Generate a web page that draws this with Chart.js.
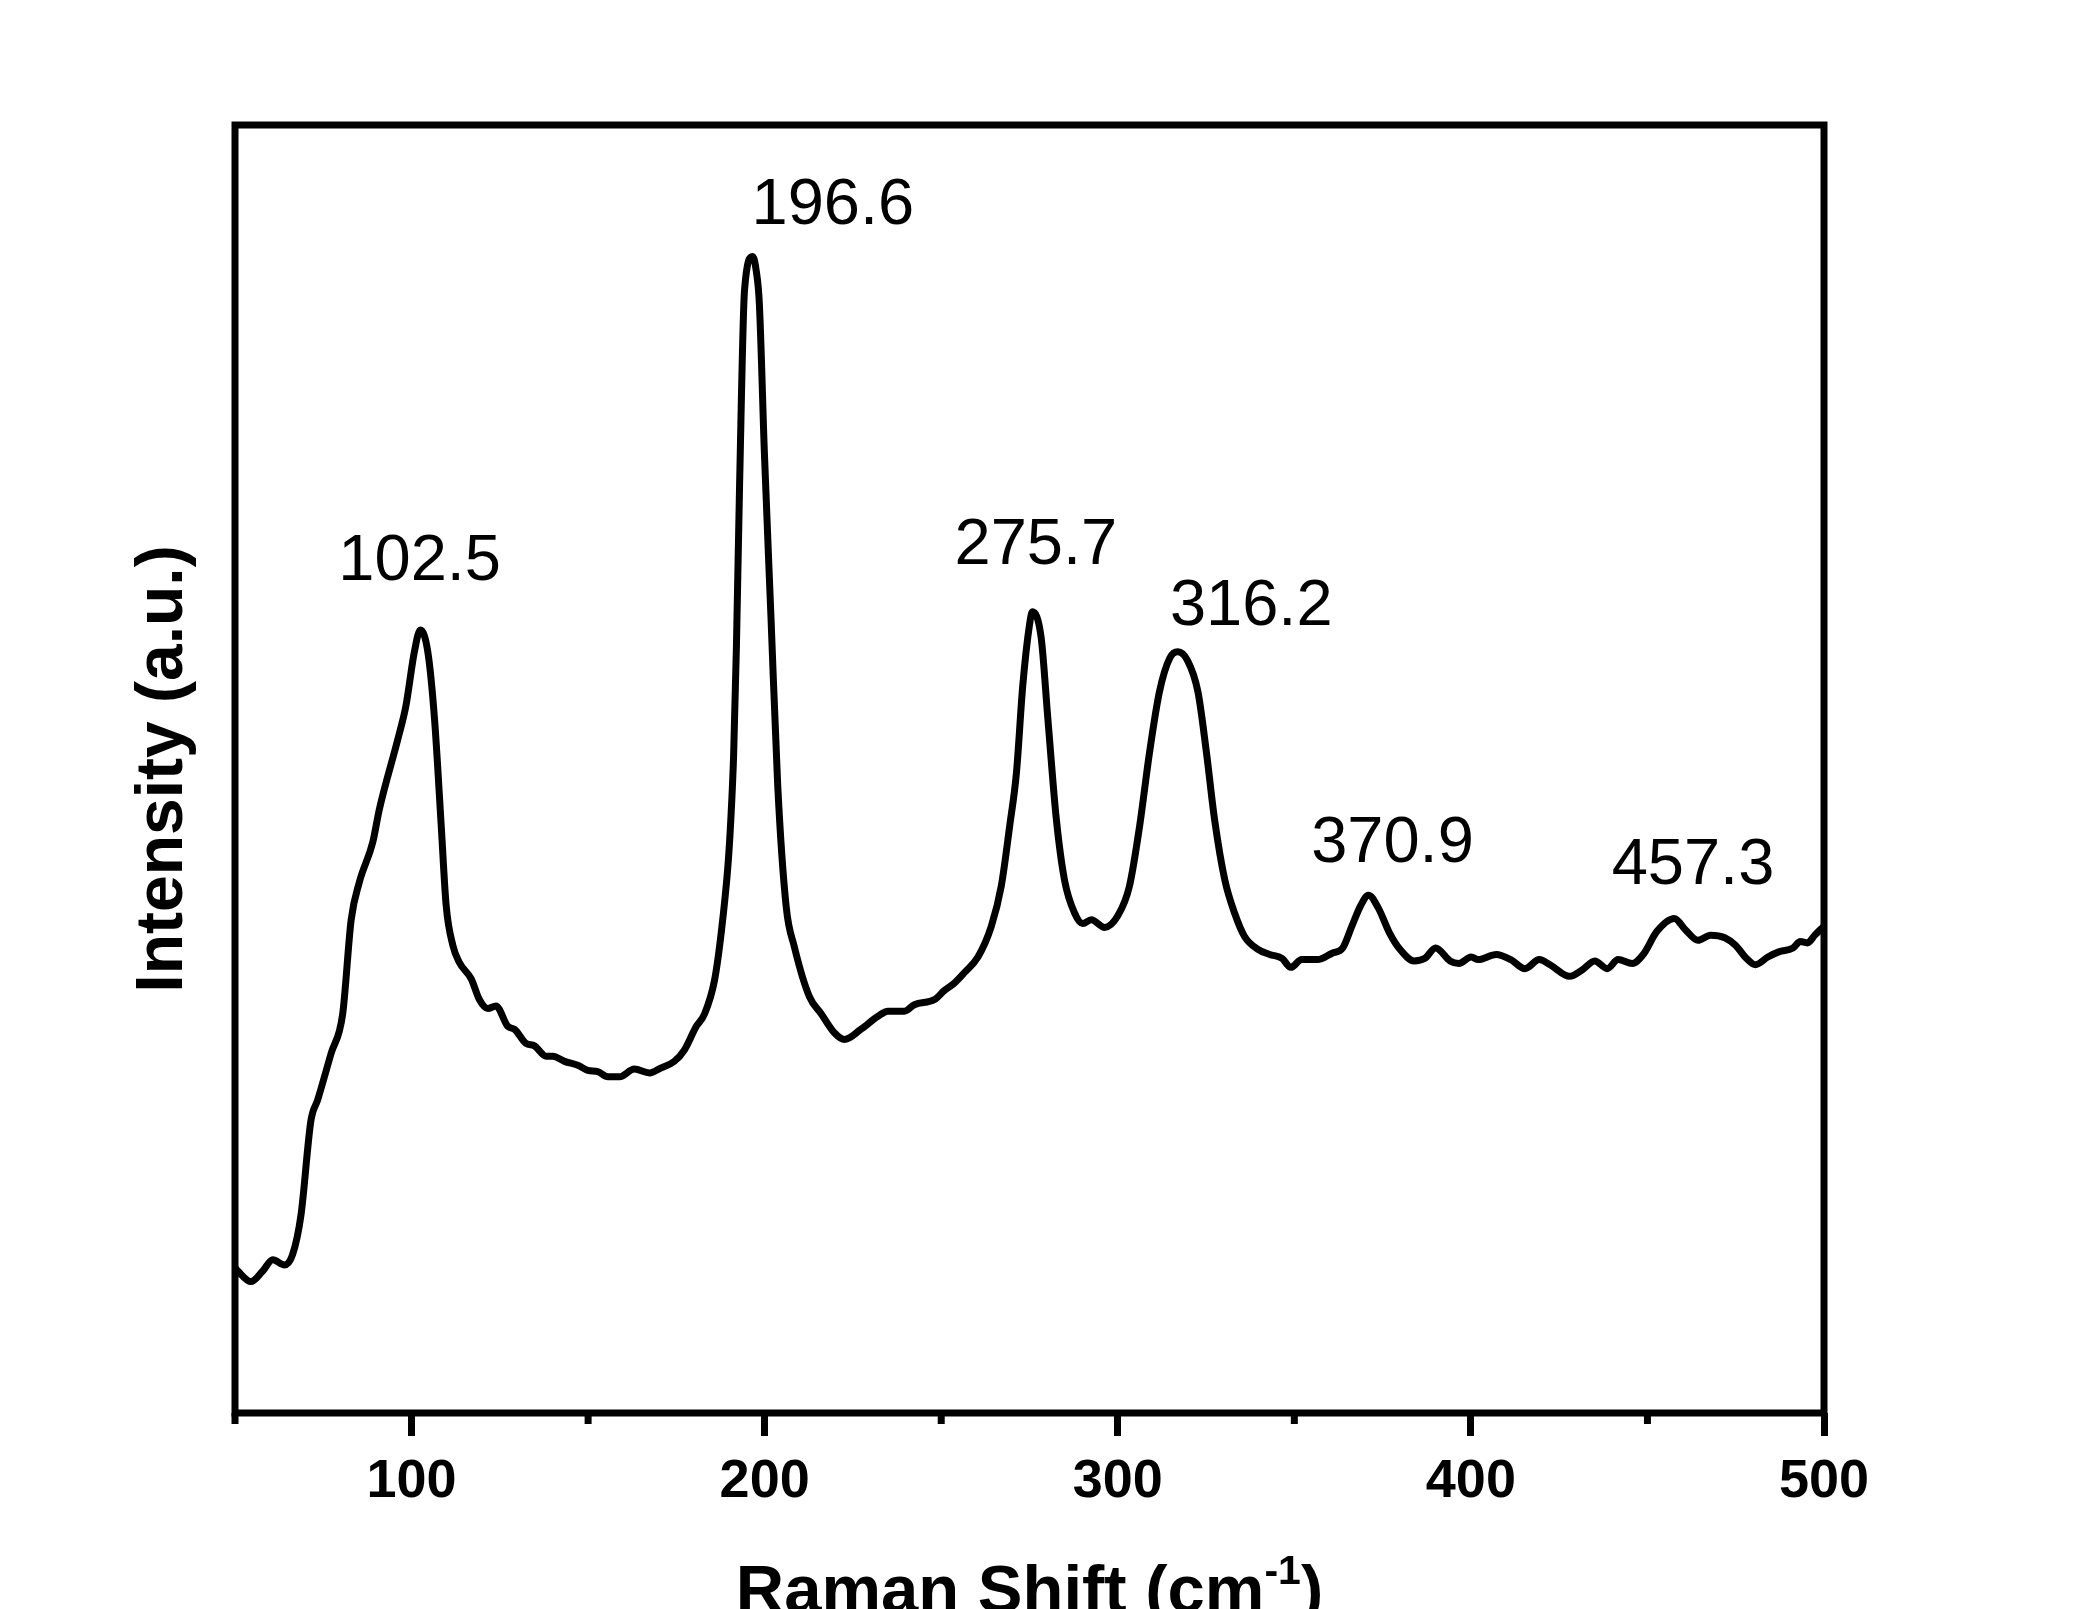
<!DOCTYPE html>
<html>
<head>
<meta charset="utf-8">
<title>Raman spectrum</title>
<script src="https://cdn.jsdelivr.net/npm/chart.js@4.4.1/dist/chart.umd.min.js"></script>
<style>
  html, body { margin: 0; padding: 0; background: #fff; }
  canvas { display: block; }
</style>
</head>
<body>
<canvas id="raman" width="2077" height="1609"></canvas>
<script>
// Raman shift (cm-1) and intensity (a.u., 0-100 of plot height)
const ramanShift = [
  50, 50.9, 54.5, 57.8, 60.7, 64.0, 66.3, 68.7, 71.5, 73.4, 77.2, 80.5, 82.9, 85.2, 89.0,
  90.9, 96.1, 98.4, 100.8, 102.5, 104.6, 106.5, 108.4, 109.8, 111.7, 113.5, 116.9, 119.2,
  121.6, 123.9, 127.3, 129.1, 132.4, 134.8, 138.1, 140.0, 143.3, 147.1, 149.9, 152.7, 155.6,
  158.9, 163.1, 167.4, 170.7, 174.4, 177.3, 180.6, 183.0, 185.8, 187.7, 189.6, 190.4, 191.2,
  192.0, 192.9, 194.3, 196.6, 197.6, 198.5, 199.9, 201.8, 203.7, 206.1, 208.4, 212.7, 216.0, 219.8,
  222.6, 227.3, 232.1, 234.9, 239.6, 242.4, 248.1, 250.9, 253.8, 256.6, 260.4, 264.2, 267.0,
  269.4, 271.3, 273.1, 275.0, 275.8, 278.3, 280.2, 282.6, 284.9, 287.8, 290.1, 292.5, 296.3,
  300.0, 303.3, 306.2, 309.0, 311.8, 314.7, 317.0, 319.8, 322.7, 325.1, 327.4, 330.3, 333.1,
  335.9, 339.7, 343.0, 346.5, 349.0, 352.1, 356.6, 360.7, 363.7, 366.3, 368.8, 371.0, 373.8,
  376.9, 379.9, 383.9, 387.0, 390.0, 394.1, 396.6, 400.1, 402.1, 407.2, 411.3, 415.3, 419.4,
  422.4, 428.0, 431.5, 435.1, 438.6, 441.7, 445.7, 448.8, 452.7, 457.6, 460.8, 464.3, 467.9,
  471.9, 475.0, 478.0, 480.6, 484.1, 487.2, 491.2, 493.3, 495.3, 497.4, 500.0,
];
const intensity = [
  11.3, 11.0, 10.2, 11.0, 11.9, 11.5, 12.3, 15.4, 22.7, 24.3, 27.9, 31.0, 38.3, 41.2, 44.3,
  46.9, 52.3, 54.9, 59.1, 60.8, 59.1, 53.9, 45.6, 39.4, 36.3, 35.0, 33.7, 32.1,
  31.4, 31.6, 30.0, 29.8, 28.7, 28.5, 27.7, 27.7, 27.3, 27.0, 26.6, 26.5, 26.1,
  26.1, 26.7, 26.4, 26.8, 27.3, 28.2, 30.0, 31.0, 33.6, 37.3, 42.5, 46.0, 51.0,
  59.5, 72.1, 87.2, 89.8, 88.7, 86.1, 74.7, 61.7, 48.7, 39.3, 36.2, 32.3, 31.0, 29.5,
  29.0, 29.8, 30.8, 31.2, 31.2, 31.7, 32.1, 32.8, 33.4, 34.2, 35.4, 37.8, 40.9,
  45.6, 49.7, 56.5, 61.2, 62.2, 60.2, 53.9, 46.1, 41.4, 38.8, 38.0, 38.3, 37.7,
  38.6, 40.9, 45.6, 51.3, 56.0, 58.6, 59.1, 58.4, 56.0, 51.3, 46.1, 41.4, 38.8,
  37.0, 36.0, 35.6, 35.3, 34.6, 35.2, 35.2, 35.7, 36.1, 37.8, 39.4, 40.2, 39.2,
  37.3, 36.0, 35.1, 35.3, 36.1, 35.1, 34.9, 35.4, 35.2, 35.6, 35.2, 34.5, 35.2,
  34.8, 33.9, 34.4, 35.1, 34.5, 35.2, 34.9, 35.6, 37.4, 38.4, 37.5, 36.7, 37.1,
  36.9, 36.3, 35.3, 34.8, 35.4, 35.8, 36.1, 36.6, 36.5, 37.1, 37.8,
];

// peak annotations: text and where its centre sits, in data units
const peakLabels = ['102.5', '196.6', '275.7', '316.2', '370.9', '457.3'];
const peakLabelX = [102.3, 219.3, 276.8, 337.8, 377.8, 462.9];
const peakLabelY = [66.1, 93.7, 67.3, 62.6, 44.2, 42.5];

const xTickValues = [100, 200, 300, 400, 500];

const FONT = "'Liberation Sans', Arial, sans-serif";
const LINE_W = 7;

const framePlugin = {
  id: 'frame',
  afterDraw(chart) {
    const { ctx, chartArea, scales } = chart;
    const xs = scales.x;
    ctx.save();
    ctx.strokeStyle = '#000';
    ctx.lineWidth = LINE_W;
    ctx.lineCap = 'square';
    ctx.strokeRect(chartArea.left, chartArea.top,
      chartArea.right - chartArea.left, chartArea.bottom - chartArea.top);

    // short minor ticks between the labelled ones
    ctx.lineCap = 'butt';
    xs.ticks.forEach((t) => {
      if (xTickValues.includes(t.value)) return;
      const px = xs.getPixelForValue(t.value);
      ctx.beginPath();
      ctx.moveTo(px, chartArea.bottom);
      ctx.lineTo(px, chartArea.bottom + 11);
      ctx.stroke();
    });

    // peak positions
    ctx.fillStyle = '#000';
    ctx.font = `65px ${FONT}`;
    ctx.textAlign = 'center';
    ctx.textBaseline = 'middle';
    peakLabels.forEach((label, i) => {
      ctx.fillText(label, xs.getPixelForValue(peakLabelX[i]),
        scales.y.getPixelForValue(peakLabelY[i]));
    });

    // y title
    ctx.save();
    ctx.translate(182, (chartArea.top + chartArea.bottom) / 2);
    ctx.rotate(-Math.PI / 2);
    ctx.font = `bold 66px ${FONT}`;
    ctx.textBaseline = 'alphabetic';
    ctx.fillText('Intensity (a.u.)', 0, 0);
    ctx.restore();

    // x title with superscript
    const base = `bold 67px ${FONT}`;
    const sup = `bold 41px ${FONT}`;
    const main = 'Raman Shift (cm';
    const supText = '-1';
    const tail = ')';
    ctx.textAlign = 'left';
    ctx.textBaseline = 'alphabetic';
    ctx.font = base;
    const wMain = ctx.measureText(main).width;
    const wTail = ctx.measureText(tail).width;
    ctx.font = sup;
    const wSup = ctx.measureText(supText).width;
    const total = wMain + wSup + wTail;
    let x0 = (chartArea.left + chartArea.right) / 2 - total / 2;
    const baseY = 1612;
    ctx.font = base;
    ctx.fillText(main, x0, baseY);
    x0 += wMain;
    ctx.font = sup;
    ctx.fillText(supText, x0, baseY - 28);
    x0 += wSup;
    ctx.font = base;
    ctx.fillText(tail, x0, baseY);
    ctx.restore();
  },
};

new Chart(document.getElementById('raman'), {
  type: 'line',
  data: {
    datasets: [{
      data: ramanShift.map((x, i) => ({ x, y: intensity[i] })),
      borderColor: '#000',
      borderWidth: LINE_W,
      pointRadius: 0,
      fill: false,
      cubicInterpolationMode: 'monotone',
      borderJoinStyle: 'round',
      borderCapStyle: 'round',
    }],
  },
  options: {
    responsive: false,
    devicePixelRatio: 1,
    animation: false,
    layout: { padding: { left: 235, right: 253, top: 125, bottom: 0 } },
    plugins: {
      legend: { display: false },
      tooltip: { enabled: false },
    },
    scales: {
      x: {
        type: 'linear',
        min: 50,
        max: 500,
        border: { display: false },
        grid: {
          drawOnChartArea: false,
          drawTicks: true,
          tickLength: 23,
          tickWidth: LINE_W,
          tickColor: (c) => (c.tick && xTickValues.includes(c.tick.value) ? '#000' : 'rgba(0,0,0,0)'),
        },
        ticks: {
          stepSize: 50,
          autoSkip: false,
          maxRotation: 0,
          padding: 14,
          color: '#000',
          font: { family: FONT, size: 54, weight: 'bold' },
          callback: (v) => (xTickValues.includes(v) ? String(v) : ''),
        },
        afterFit: (scale) => { scale.height = 196; },
      },
      y: {
        display: false,
        min: 0,
        max: 100,
      },
    },
  },
  plugins: [framePlugin],
});
</script>
</body>
</html>
